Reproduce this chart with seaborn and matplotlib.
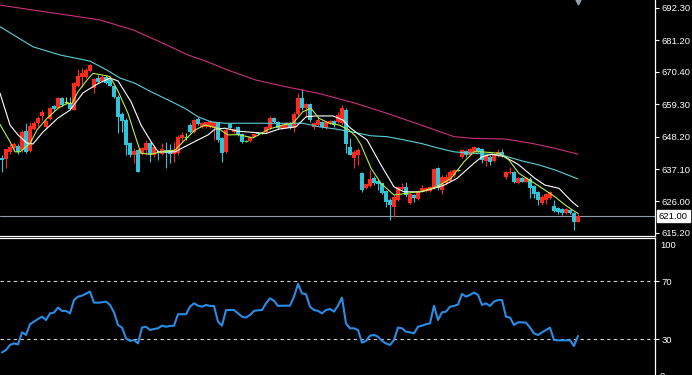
import numpy as np
import pandas as pd
import matplotlib
matplotlib.use("Agg")
import matplotlib.pyplot as plt
import seaborn as sns

# ---------------- data ----------------
open_ = [641.0, 640.5, 643.0, 644.2, 645.1, 643.6, 650.1, 643.4, 650.8, 652.8,
         655.4, 651.6, 654.2, 658.8, 658.1, 661.6, 660.0, 659.6, 657.3, 665.7,
         668.8, 668.8, 670.7, 664.8, 668.4, 667.3, 668.5, 668.3, 665.7, 661.8,
         656.0, 653.9, 645.9, 641.9, 643.6, 642.2, 643.6, 645.9, 641.9, 643.0,
         642.3, 643.6, 643.6, 642.4, 642.5, 647.6, 648.1, 652.2, 649.7, 654.1,
         651.6, 651.6, 651.6, 651.1, 653.3, 647.8, 643.0, 652.4, 649.8, 651.6,
         649.0, 646.7, 646.7, 648.2, 649.6, 649.3, 649.7, 651.3, 654.7, 653.3,
         651.1, 651.3, 652.4, 651.3, 655.9, 661.4, 657.9, 659.3, 651.6, 652.2,
         653.1, 651.3, 652.8, 653.6, 653.3, 652.8, 657.3, 644.8, 640.8, 641.9,
         635.6, 630.5, 631.4, 634.1, 633.0, 632.2, 629.6, 626.5, 624.2, 626.5,
         630.3, 631.0, 625.4, 628.2, 626.8, 629.3, 629.6, 629.6, 630.5, 637.6,
         629.9, 632.2, 633.0, 635.1, 636.7, 641.3, 643.3, 641.9, 643.0, 644.2,
         643.9, 639.9, 641.3, 639.9, 641.9, 642.9, 634.5, 635.6, 636.2, 632.2,
         634.1, 632.8, 633.7, 631.4, 629.3, 625.4, 626.5, 627.1, 624.5, 623.6,
         623.4, 621.9, 623.1, 621.9, 619.1]
high_ = [641.9, 643.9, 645.6, 646.3, 645.6, 650.5, 652.8, 653.3, 653.6, 655.3,
         657.3, 653.9, 658.3, 659.0, 661.9, 661.9, 661.9, 661.7, 667.0, 671.4,
         671.6, 671.6, 673.0, 668.2, 669.3, 669.2, 669.3, 668.8, 666.3, 662.5,
         656.6, 654.6, 646.4, 644.2, 644.0, 644.8, 647.1, 646.4, 645.3, 643.6,
         645.9, 646.3, 645.6, 646.3, 648.8, 649.9, 649.3, 652.8, 654.1, 655.0,
         653.3, 653.3, 653.9, 653.3, 653.3, 648.2, 651.6, 652.9, 651.2, 652.0,
         649.4, 647.1, 648.2, 649.5, 649.8, 649.6, 651.9, 655.3, 655.0, 653.6,
         652.5, 653.1, 653.3, 656.8, 663.1, 664.5, 659.6, 659.6, 653.3, 655.0,
         653.6, 653.6, 653.9, 653.9, 656.8, 659.0, 657.9, 647.6, 643.6, 644.2,
         636.2, 632.2, 636.8, 634.8, 633.7, 632.4, 629.9, 627.1, 628.2, 631.4,
         632.4, 632.8, 628.8, 628.4, 629.9, 631.6, 631.1, 631.4, 637.4, 637.9,
         635.1, 635.3, 636.8, 637.1, 637.0, 644.0, 643.6, 644.4, 645.1, 644.6,
         644.2, 642.2, 641.9, 642.5, 644.0, 644.0, 636.4, 637.9, 636.4, 634.5,
         634.5, 634.2, 634.5, 631.6, 629.6, 628.2, 628.8, 629.6, 626.5, 624.2,
         623.9, 623.9, 623.4, 622.5, 621.9]
low_ = [636.0, 637.6, 642.2, 643.6, 642.4, 643.0, 642.5, 643.0, 650.5, 651.6,
        653.9, 651.3, 653.9, 657.0, 657.9, 658.8, 659.3, 657.3, 657.3, 665.3,
        665.3, 668.2, 670.3, 663.0, 666.5, 667.0, 666.3, 665.6, 661.6, 649.5,
        649.9, 641.9, 641.3, 639.1, 636.0, 641.9, 641.9, 639.4, 641.3, 640.2,
        641.9, 637.4, 639.1, 639.6, 641.9, 646.4, 647.1, 649.3, 649.3, 652.2,
        651.1, 651.1, 651.1, 647.1, 646.5, 639.6, 642.5, 650.8, 649.4, 648.5,
        645.9, 646.4, 646.5, 648.1, 648.8, 649.0, 649.3, 650.8, 652.8, 650.8,
        650.8, 651.1, 650.8, 649.7, 655.6, 657.3, 655.0, 653.3, 650.8, 652.0,
        651.1, 650.8, 652.5, 651.6, 652.8, 652.2, 642.5, 641.9, 637.6, 638.5,
        629.3, 630.3, 631.0, 631.6, 629.9, 628.4, 624.2, 619.6, 620.8, 626.1,
        629.9, 627.6, 625.0, 625.9, 626.5, 629.1, 629.3, 629.3, 630.3, 629.9,
        628.4, 631.6, 632.6, 634.5, 636.4, 640.8, 641.3, 641.6, 642.8, 642.8,
        639.1, 638.3, 638.5, 639.6, 641.3, 641.3, 633.7, 635.3, 632.2, 631.9,
        632.6, 632.5, 627.3, 627.1, 624.8, 624.8, 625.0, 626.8, 622.5, 621.6,
        621.4, 621.6, 621.7, 616.2, 618.9]
close_ = [640.3, 643.9, 644.8, 645.6, 642.9, 649.7, 643.0, 651.9, 653.0, 654.7,
          656.6, 653.6, 657.9, 657.7, 661.6, 659.0, 660.0, 657.7, 666.5, 669.1,
          669.9, 671.0, 672.8, 668.0, 667.0, 668.8, 666.5, 665.7, 661.8, 655.0,
          653.7, 645.4, 641.9, 643.4, 636.2, 644.2, 645.9, 641.9, 644.8, 642.5,
          643.9, 642.5, 642.2, 643.6, 648.2, 648.8, 648.1, 649.9, 653.9, 652.4,
          652.8, 653.3, 653.6, 653.3, 647.1, 642.5, 650.5, 651.3, 650.8, 648.8,
          646.3, 646.7, 648.2, 649.1, 649.1, 649.3, 651.6, 654.5, 653.3, 651.3,
          652.2, 652.8, 651.1, 655.9, 661.6, 657.9, 659.3, 653.9, 652.8, 653.9,
          651.6, 653.3, 653.6, 652.2, 655.6, 657.9, 645.6, 641.9, 643.0, 643.6,
          629.9, 631.9, 633.7, 632.2, 631.9, 628.8, 625.9, 624.8, 627.6, 631.0,
          631.0, 628.2, 628.4, 627.1, 629.6, 630.5, 630.7, 631.0, 637.1, 630.5,
          634.5, 634.5, 636.2, 636.8, 636.7, 643.6, 641.9, 643.9, 644.8, 643.0,
          640.2, 641.9, 639.6, 642.2, 642.9, 641.9, 636.2, 636.2, 632.6, 634.1,
          632.8, 633.9, 630.7, 628.4, 626.5, 627.6, 628.4, 629.3, 622.7, 622.3,
          621.9, 623.4, 621.9, 619.1, 621.0]

# moving averages, read at points along the candle index
ma_fast_idx = [-0.5, 2, 3.25, 4.5, 7, 8.75, 11.25, 14, 16.25, 17.5, 19, 21.25, 22.75, 25.25, 27,
               29, 31.5, 33.5, 34.75, 37.25, 39.75, 43.25, 45.75, 48.25, 50.75, 54, 56.5, 59,
               62.75, 66.75, 70.25, 72.75, 75.25, 77.25, 79.25, 81.75, 84.25, 86.75, 88.5, 89.75,
               92.25, 94.75, 98, 101.25, 105.5, 108.75, 112.25, 115.5, 118, 120, 124.25, 126.75,
               129.25, 132.5, 135.75, 138.25, 140.75, 143.25, 144]
ma_fast = [652.4, 646.5, 643.0, 643.0, 645.9, 650.5, 654.5, 657.9, 659.6, 659.6, 663.6, 667.6,
           669.9, 669.3, 668.8, 663.8, 656.2, 647.6, 642.5, 642.2, 643.0, 643.6, 647.1, 650.5,
           652.2, 651.1, 648.8, 648.9, 647.8, 650.8, 652.2, 652.8, 656.8, 657.9, 654.5, 652.8,
           652.2, 650.5, 648.2, 645.4, 637.4, 632.2, 628.2, 628.8, 629.6, 631.1, 633.9, 639.6,
           643.0, 643.0, 642.5, 640.2, 635.6, 632.8, 629.9, 627.6, 624.8, 622.5, 621.9]

ma_mid_idx = [-0.5, 2, 4, 6.25, 7.75, 10.25, 14, 17, 20.25, 23.75, 27, 29, 32.25, 34.75, 37.25,
              39, 43.25, 45.75, 49, 51.5, 53.25, 55.75, 59, 66, 69.25, 73.5, 76, 78.5, 82.75,
              85.25, 86.75, 88.5, 91.25, 94.75, 98, 100.5, 104.75, 108, 110.5, 113.75, 118, 120,
              122.5, 125.75, 129.25, 133.25, 135.75, 139.25, 142.5, 144]
ma_mid = [663.1, 652.2, 648.8, 646.0, 645.7, 649.8, 654.6, 657.3, 663.2, 666.2, 668.3, 667.3,
          660.2, 652.2, 646.5, 643.0, 643.0, 644.8, 647.1, 648.8, 650.8, 651.1, 650.1, 649.3,
          650.8, 651.6, 655.0, 655.3, 655.3, 653.9, 651.6, 649.7, 647.1, 638.5, 631.0, 629.3,
          629.3, 630.5, 631.6, 633.9, 639.1, 641.3, 642.2, 641.3, 638.5, 633.9, 631.6, 630.5,
          625.9, 624.2]

ma_slow_idx = [-0.5, 7.75, 14.5, 22, 26.25, 29.5, 33.25, 37.25, 41.5, 45.75, 49, 52.25, 55.75,
               61.75, 75.25, 79.25, 83.5, 88, 92.25, 96.25, 100.5, 104.75, 108.75, 113, 118, 125,
               130, 134.25, 138.25, 144]
ma_slow = [685.9, 679.0, 676.2, 674.1, 671.0, 668.3, 666.5, 663.6, 660.8, 657.9, 655.0, 653.3,
           652.8, 652.8, 652.8, 651.6, 650.8, 649.7, 648.5, 648.2, 647.1, 645.9, 644.4, 643.0,
           642.5, 641.9, 639.9, 638.5, 636.8, 633.7]

ma_long_idx = [-0.5, 7.75, 16.25, 24.5, 32.75, 41.25, 46.5, 51.5, 56.5, 63.5, 71, 79.25, 88.5,
               96.25, 104.75, 113, 118, 125.75, 132.5, 138.25, 144]
ma_long = [693.3, 691.6, 689.9, 688.2, 684.8, 679.6, 676.2, 673.8, 671.0, 667.6, 665.3, 663.0,
           659.6, 656.2, 652.2, 648.2, 647.6, 647.4, 645.9, 644.2, 642.2]

rsi = [21.0, 22.6, 26.1, 27.2, 26.5, 34.8, 33.0, 40.4, 42.2, 44.0,
       45.6, 43.3, 47.9, 48.4, 51.9, 49.6, 49.6, 47.9, 57.1, 59.4,
       60.1, 61.5, 62.9, 55.3, 55.3, 55.5, 56.0, 53.7, 48.6, 39.9,
       38.1, 30.7, 28.9, 29.5, 27.2, 38.1, 38.7, 36.4, 37.1, 37.6,
       39.4, 38.7, 39.2, 39.4, 47.3, 47.3, 47.3, 52.5, 54.8, 53.2,
       52.5, 53.7, 53.0, 53.0, 42.2, 39.4, 50.2, 50.2, 50.2, 47.9,
       45.6, 45.0, 46.8, 49.6, 50.0, 50.2, 54.8, 58.3, 56.5, 53.0,
       53.2, 53.2, 53.2, 59.4, 68.2, 61.7, 61.1, 52.5, 50.2, 49.6,
       47.9, 50.2, 50.9, 49.1, 53.2, 58.8, 41.0, 37.6, 37.6, 36.4,
       27.7, 28.9, 32.5, 33.0, 31.8, 28.9, 27.2, 26.1, 29.5, 38.1,
       37.6, 35.3, 34.8, 34.1, 38.7, 39.4, 40.4, 41.0, 53.2, 43.3,
       48.6, 49.1, 52.5, 53.0, 54.0, 61.3, 59.4, 60.6, 62.2, 60.6,
       53.7, 54.8, 53.0, 56.0, 57.1, 57.1, 45.6, 45.0, 39.9, 41.7,
       41.7, 41.5, 38.1, 34.1, 33.0, 34.8, 36.4, 38.1, 29.5, 29.3,
       29.3, 29.3, 29.3, 25.4, 32.3]

price_ticks = [692.30, 681.20, 670.40, 659.30, 648.20, 637.10, 626.00, 615.20]
rsi_levels = [70, 30]
last_price = 621.00

# ---------------- styling ----------------
sns.set_theme(style="dark", rc={"axes.facecolor": "black", "figure.facecolor": "black",
                                "axes.grid": False})
plt.rcParams['font.family'] = ['Liberation Sans', 'DejaVu Sans']

UP = "#ff2a1e"
DOWN = "#33c3d8"
DOJI = "#7ee83a"
FS = 6.8

W, H = 692, 375
fig = plt.figure(figsize=(W / 100, H / 100), dpi=100)
fig.patch.set_facecolor("black")
ax = fig.add_axes([0, 1 - 235.5 / H, 655 / W, 235.5 / H])
ax2 = fig.add_axes([0, 0, 655 / W, (H - 237.5) / H])

df = pd.DataFrame({"o": open_, "h": high_, "l": low_, "c": close_})
df["i"] = np.arange(len(df))
up = df[df.c > df.o]
dn = df[df.c < df.o]
dj = df[df.c == df.o]

# gray current price line
ax.axhline(last_price, color="#8e9cab", lw=0.8, zorder=1)

# wicks
for sub, col in ((up, UP), (dn, DOWN), (dj, DOJI)):
    ax.vlines(sub.i, sub.l, sub.h, colors=col, lw=0.8, zorder=2)
# bodies
ax.bar(up.i, up.c - up.o, bottom=up.o, width=0.8, color=UP, linewidth=0, zorder=3)
ax.bar(dn.i, dn.o - dn.c, bottom=dn.c, width=0.8, color=DOWN, linewidth=0, zorder=3)
ax.hlines(dj.c, dj.i - 0.4, dj.i + 0.4, colors=DOJI, lw=0.8, zorder=3)

# moving averages
sns.lineplot(x=ma_long_idx, y=ma_long, ax=ax, color="#c8327a", lw=0.8, zorder=4)
sns.lineplot(x=ma_slow_idx, y=ma_slow, ax=ax, color="#5cd0d6", lw=0.8, zorder=4)
sns.lineplot(x=ma_mid_idx, y=ma_mid, ax=ax, color="#ffffff", lw=0.8, zorder=4)
sns.lineplot(x=ma_fast_idx, y=ma_fast, ax=ax, color="#b6f04a", lw=0.8, zorder=4)

ax.set_xlim(-0.5, 163.25)
ax.set_ylim(614.33, 695.04)
ax.set_xticks([])
ax.yaxis.tick_right()
ax.set_yticks(price_ticks)
ax.set_yticklabels([f"{t:.2f}" for t in price_ticks])
ax.tick_params(axis="y", colors="white", labelcolor="white", labelsize=FS,
               length=3, width=0.8, pad=1.5, direction="out")
for s in ("top", "left"):
    ax.spines[s].set_visible(False)
for s in ("bottom", "right"):
    ax.spines[s].set_visible(True)
    ax.spines[s].set_color("white")
    ax.spines[s].set_linewidth(0.9)
ax.set_xlabel("")
ax.set_ylabel("")

# current price box
ax.text(1.006, last_price, f"{last_price:.2f}", transform=ax.get_yaxis_transform(),
        ha="left", va="center", color="black", fontsize=FS, clip_on=False, zorder=7,
        bbox=dict(boxstyle="square,pad=0.18", fc="white", ec="white"))
# small shift marker at top
ax.plot([df.i.iloc[-1]], [0.993], transform=ax.get_xaxis_transform(), marker="v",
        color="#9aa0a8", ms=3.5, clip_on=False, zorder=6)

# ---------------- RSI panel ----------------
for lv in rsi_levels:
    ax2.axhline(lv, color="#d0d0d0", lw=0.8, dashes=(3, 3), zorder=1)
sns.lineplot(x=np.arange(len(rsi)), y=rsi, ax=ax2, color="#2b8ce6", lw=1.5, zorder=3)
ax2.set_xlim(-0.5, 163.25)
ax2.set_ylim(5.4, 100.2)
ax2.set_xticks([])
ax2.yaxis.tick_right()
ax2.set_yticks(rsi_levels)
ax2.set_yticklabels([str(v) for v in rsi_levels])
ax2.tick_params(axis="y", colors="white", labelcolor="white", labelsize=FS,
                length=3, width=0.8, pad=1.5, direction="out")
for s in ("bottom", "left"):
    ax2.spines[s].set_visible(False)
for s in ("top", "right"):
    ax2.spines[s].set_visible(True)
    ax2.spines[s].set_color("white")
    ax2.spines[s].set_linewidth(0.9)
ax2.set_xlabel("")
ax2.set_ylabel("")
ax2.text(1.0 + 5 / 655, 0.975, "100", transform=ax2.transAxes, ha="left", va="top",
         color="white", fontsize=FS, clip_on=False)
ax2.text(1.0 + 5 / 655, 4.7, "0", transform=ax2.get_yaxis_transform(), ha="left",
         va="center", color="white", fontsize=FS, clip_on=False)

fig.savefig("out.png", dpi=100, facecolor="black")
